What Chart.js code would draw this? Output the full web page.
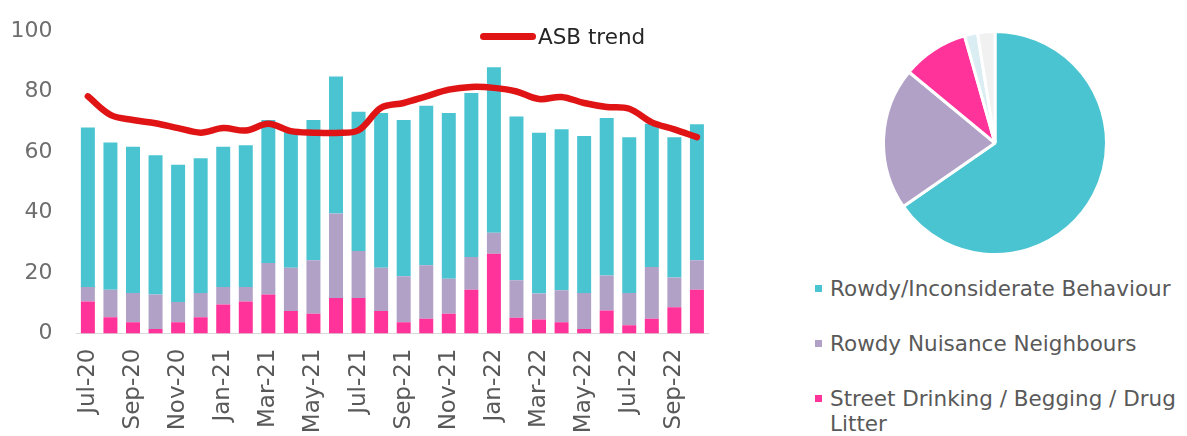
<!DOCTYPE html>
<html>
<head>
<meta charset="utf-8">
<script src="https://cdn.jsdelivr.net/npm/chart.js@4/dist/chart.umd.min.js"></script>
<style>
  html, body { margin: 0; padding: 0; background: #ffffff; }
  body { width: 1187px; height: 436px; overflow: hidden; position: relative; font-family: "DejaVu Sans", Verdana, sans-serif; }
  #barChart { position: absolute; left: 0; top: 0; }
  #pieChart { position: absolute; left: 882px; top: 30px; }
  .trend-key { position: absolute; left: 480px; top: 22px; height: 28px; display: flex; align-items: center; }
  .trend-key .swatch { width: 56px; height: 7px; border-radius: 4px; margin-right: 2px; }
  .trend-key .txt { font-size: 21.5px; color: #262626; }
  .pie-key { position: absolute; left: 815px; width: 372px; font-size: 21.5px; line-height: 25px; color: #595959; }
  .pie-key .item { position: absolute; left: 0; width: 372px; }
  .pie-key .box { position: absolute; left: 0; top: 9px; width: 7px; height: 7px; }
  .pie-key .lab { position: absolute; left: 15px; width: 357px; }
</style>
</head>
<body>
<canvas id="barChart" width="740" height="436"></canvas>
<canvas id="pieChart" width="226" height="226"></canvas>
<div class="trend-key" id="trendKey"></div>
<div class="pie-key" id="pieKey"></div>
<script>
// Monthly ASB reports, Jul-20 to Oct-22
const months = ['Jul-20','Aug-20','Sep-20','Oct-20','Nov-20','Dec-20','Jan-21','Feb-21','Mar-21','Apr-21','May-21','Jun-21',
                'Jul-21','Aug-21','Sep-21','Oct-21','Nov-21','Dec-21','Jan-22','Feb-22','Mar-22','Apr-22','May-22','Jun-22',
                'Jul-22','Aug-22','Sep-22','Oct-22'];

const streetDrinking = [10.6, 5.4, 3.7, 1.5, 3.7, 5.4, 9.6, 10.6, 12.9, 7.4, 6.5, 11.7,
                        11.7, 7.4, 3.7, 4.9, 6.5, 14.5, 26.4, 5.2, 4.6, 3.7, 1.5, 7.6,
                        2.7, 4.9, 8.7, 14.5];
const nuisanceNeighbours = [4.8, 9.1, 9.7, 11.4, 6.7, 8.0, 5.8, 4.8, 10.4, 14.3, 17.7, 28.0,
                            15.6, 14.3, 15.2, 17.7, 11.6, 10.8, 6.9, 12.4, 8.6, 10.6, 11.9, 11.6,
                            10.7, 17.1, 9.8, 9.7];
const rowdyBehaviour = [52.7, 48.6, 48.3, 46.0, 45.4, 44.5, 46.3, 46.8, 47.3, 44.8, 46.4, 45.3,
                        46.0, 51.2, 51.7, 52.7, 54.8, 54.2, 54.7, 54.1, 53.2, 53.2, 51.9, 52.0,
                        51.5, 47.3, 46.4, 45.0];
const asbTrend = [78.4, 72.3, 70.6, 69.5, 67.9, 66.4, 67.9, 67.1, 69.3, 66.9, 66.4, 66.3,
                  67.2, 74.6, 76.2, 78.4, 80.6, 81.5, 81.2, 80.0, 77.5, 78.2, 76.2, 74.9,
                  74.3, 69.8, 67.5, 64.9];
const yTicks = [0, 20, 40, 60, 80, 100];

// Share of reports by category
const pieLabels = ['Rowdy/Inconsiderate Behaviour', 'Rowdy Nuisance Neighbours',
                   'Street Drinking / Begging / Drug Litter', 'Vehicle Nuisance', 'Other'];
const pieValues = [65.3, 20.6, 9.6, 1.9, 2.5];

const colTeal = '#4bc4d2';
const colPurple = '#b1a1c7';
const colPink = '#ff3399';
const colRed = '#e01414';
const pieColors = [colTeal, colPurple, colPink, '#daedf3', '#f1f1f1'];

const font = 'DejaVu Sans';

new Chart(document.getElementById('barChart'), {
  data: {
    labels: months,
    datasets: [
      { type: 'line', label: 'ASB trend', data: asbTrend, borderColor: colRed, backgroundColor: colRed,
        borderWidth: 6.5, pointRadius: 0, tension: 0.35, stack: 'trend', order: 0,
        borderCapStyle: 'round', borderJoinStyle: 'round' },
      { type: 'bar', label: pieLabels[2], data: streetDrinking, backgroundColor: colPink, stack: 'asb', order: 1 },
      { type: 'bar', label: pieLabels[1], data: nuisanceNeighbours, backgroundColor: colPurple, stack: 'asb', order: 1 },
      { type: 'bar', label: pieLabels[0], data: rowdyBehaviour, backgroundColor: colTeal, stack: 'asb', order: 1 }
    ]
  },
  options: {
    responsive: false,
    animation: false,
    devicePixelRatio: 1,
    layout: { padding: { left: 0, right: 26.6, top: 31, bottom: 0 } },
    datasets: { bar: { barPercentage: 0.62, categoryPercentage: 1.0 } },
    plugins: { legend: { display: false }, tooltip: { enabled: false } },
    scales: {
      x: {
        stacked: true,
        grid: { display: false, drawTicks: false },
        border: { display: true, color: '#d9d9d9', width: 1 },
        ticks: {
          autoSkip: false, maxRotation: 90, minRotation: 90, padding: 15,
          color: '#595959', font: { family: font, size: 23 },
          callback: (v, i) => (i % 2 === 0 ? months[i] : '')
        },
        afterFit: s => { s.height = 102.5; }
      },
      y: {
        stacked: true, min: 0, max: 100,
        grid: { display: false, drawTicks: false },
        border: { display: false },
        afterBuildTicks: s => { s.ticks = yTicks.map(v => ({ value: v })); },
        ticks: { padding: 24, color: '#6e6e6e', font: { family: font, size: 22 } },
        afterFit: s => { s.width = 76.6; s.paddingTop = 0; s.paddingBottom = 0; }
      }
    }
  }
});

new Chart(document.getElementById('pieChart'), {
  type: 'pie',
  data: {
    labels: pieLabels,
    datasets: [{ data: pieValues, backgroundColor: pieColors, borderColor: '#ffffff', borderWidth: 3 }]
  },
  options: {
    responsive: false,
    animation: false,
    devicePixelRatio: 1,
    plugins: { legend: { display: false }, tooltip: { enabled: false } }
  }
});

// Key for the trend line
const trendKey = document.getElementById('trendKey');
trendKey.innerHTML = '<span class="swatch" style="background:' + colRed + '"></span><span class="txt">ASB trend</span>';

// Key for the three main categories under the pie
const pieKey = document.getElementById('pieKey');
const rowTops = [275.5, 330.5, 385.5];
rowTops.forEach((top, i) => {
  const item = document.createElement('div');
  item.className = 'item';
  item.style.top = top + 'px';
  item.innerHTML = '<span class="box" style="background:' + pieColors[i] + '"></span><span class="lab">' + pieLabels[i] + '</span>';
  pieKey.appendChild(item);
});
</script>
</body>
</html>
